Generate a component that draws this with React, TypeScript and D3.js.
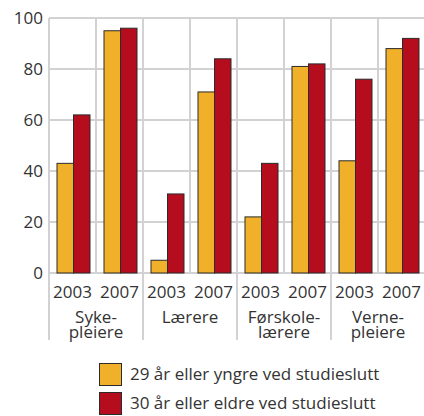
import React, { useEffect, useRef } from "react";
import * as d3 from "d3";

const groups = ["Syke-\npleiere", "Lærere", "Førskole-\nlærere", "Verne-\npleiere"];
const years = ["2003", "2007"];
const seriesNames = [
  "29 år eller yngre ved studieslutt",
  "30 år eller eldre ved studieslutt",
];
// values per group, per year: [young, old]
const young = [43, 95, 5, 71, 22, 81, 44, 88];
const old = [62, 96, 31, 84, 43, 82, 76, 92];
const yTickValues = [0, 20, 40, 60, 80, 100];
const colors = ["#f0b02a", "#b50d1e"];

const W = 424;
const H = 416;

const App = () => {
  const svgRef = useRef<SVGSVGElement>(null);

  useEffect(() => {
    const svg = d3.select(svgRef.current);
    svg.selectAll("*").remove();

    const left = 49;
    const right = 425;
    const top = 18;
    const bottom = 273;
    const font = "'Open Sans', 'Noto Sans', sans-serif";
    const fs = 17;
    const textColor = "#333";
    const gridColor = "#d2d2d4";

    const slots = groups.flatMap((g, gi) => years.map((yr) => `${gi}-${yr}`));
    const x = d3.scaleBand().domain(slots).range([left, right]).padding(0);
    const xg = d3
      .scaleBand()
      .domain(groups.map((_, i) => String(i)))
      .range([left, right])
      .padding(0);
    const inner = d3.scaleBand().domain(["0", "1"]).range([8, 41]).padding(0);
    const y = d3.scaleLinear().domain([0, 100]).range([bottom, top]);

    // horizontal grid
    svg
      .append("g")
      .selectAll("line")
      .data(yTickValues)
      .join("line")
      .attr("x1", left)
      .attr("x2", right)
      .attr("y1", (d) => y(d))
      .attr("y2", (d) => y(d))
      .attr("stroke", gridColor)
      .attr("stroke-width", 2);

    // vertical grid: year separators stop at axis, group separators go down
    const bounds = d3.range(slots.length + 1);
    svg
      .append("g")
      .selectAll("line")
      .data(bounds)
      .join("line")
      .attr("x1", (i) => left + i * x.bandwidth())
      .attr("x2", (i) => left + i * x.bandwidth())
      .attr("y1", top)
      .attr("y2", (i) => (i % 2 === 0 ? 340 : bottom))
      .attr("stroke", gridColor)
      .attr("stroke-width", 2);

    // y tick labels
    svg
      .append("g")
      .selectAll("text")
      .data(yTickValues)
      .join("text")
      .attr("x", 43)
      .attr("y", (d) => y(d))
      .attr("dy", "0.35em")
      .attr("text-anchor", "end")
      .attr("font-family", font)
      .attr("font-size", fs)
      .attr("fill", textColor)
      .text((d) => d);

    // bars
    const rows = slots.map((s, i) => ({ slot: s, vals: [young[i], old[i]] }));
    svg
      .append("g")
      .selectAll("g")
      .data(rows)
      .join("g")
      .attr("transform", (d) => `translate(${x(d.slot)},0)`)
      .selectAll("rect")
      .data((d) => d.vals.map((v, k) => ({ v, k })))
      .join("rect")
      .attr("x", (d) => inner(String(d.k))!)
      .attr("width", inner.bandwidth())
      .attr("y", (d) => y(d.v))
      .attr("height", (d) => y(0) - y(d.v))
      .attr("fill", (d) => colors[d.k])
      .attr("stroke", "#2b2b2b")
      .attr("stroke-width", 1);

    // year labels
    svg
      .append("g")
      .selectAll("text")
      .data(slots)
      .join("text")
      .attr("x", (s) => x(s)! + x.bandwidth() / 2)
      .attr("y", 298)
      .attr("text-anchor", "middle")
      .attr("font-family", font)
      .attr("font-size", fs)
      .attr("fill", textColor)
      .text((s) => s.split("-")[1]);

    // group labels (two lines as tspans)
    groups.forEach((g, gi) => {
      const cx = xg(String(gi))! + xg.bandwidth() / 2;
      const t = svg
        .append("text")
        .attr("x", cx)
        .attr("y", 323)
        .attr("text-anchor", "middle")
        .attr("font-family", font)
        .attr("font-size", fs)
        .attr("fill", textColor);
      g.split("\n").forEach((ln, li) => {
        t.append("tspan")
          .attr("x", cx)
          .attr("dy", li === 0 ? 0 : 15)
          .text(ln);
      });
    });

    // legend
    const legend = svg.append("g").attr("transform", "translate(99,363)");
    seriesNames.forEach((name, i) => {
      const row = legend.append("g").attr("transform", `translate(0,${i * 29})`);
      row
        .append("rect")
        .attr("x", 0.5)
        .attr("y", 0.5)
        .attr("width", 22)
        .attr("height", 22)
        .attr("fill", colors[i])
        .attr("stroke", "#2b2b2b");
      row
        .append("text")
        .attr("x", 31)
        .attr("y", 17)
        .attr("font-family", font)
        .attr("font-size", fs)
        .attr("fill", textColor)
        .text(name);
    });
  }, []);

  return (
    <svg
      ref={svgRef}
      width={W}
      height={H}
      style={{ position: "absolute", left: 0, top: 0, background: "#fff" }}
    ></svg>
  );
};

export default App;
